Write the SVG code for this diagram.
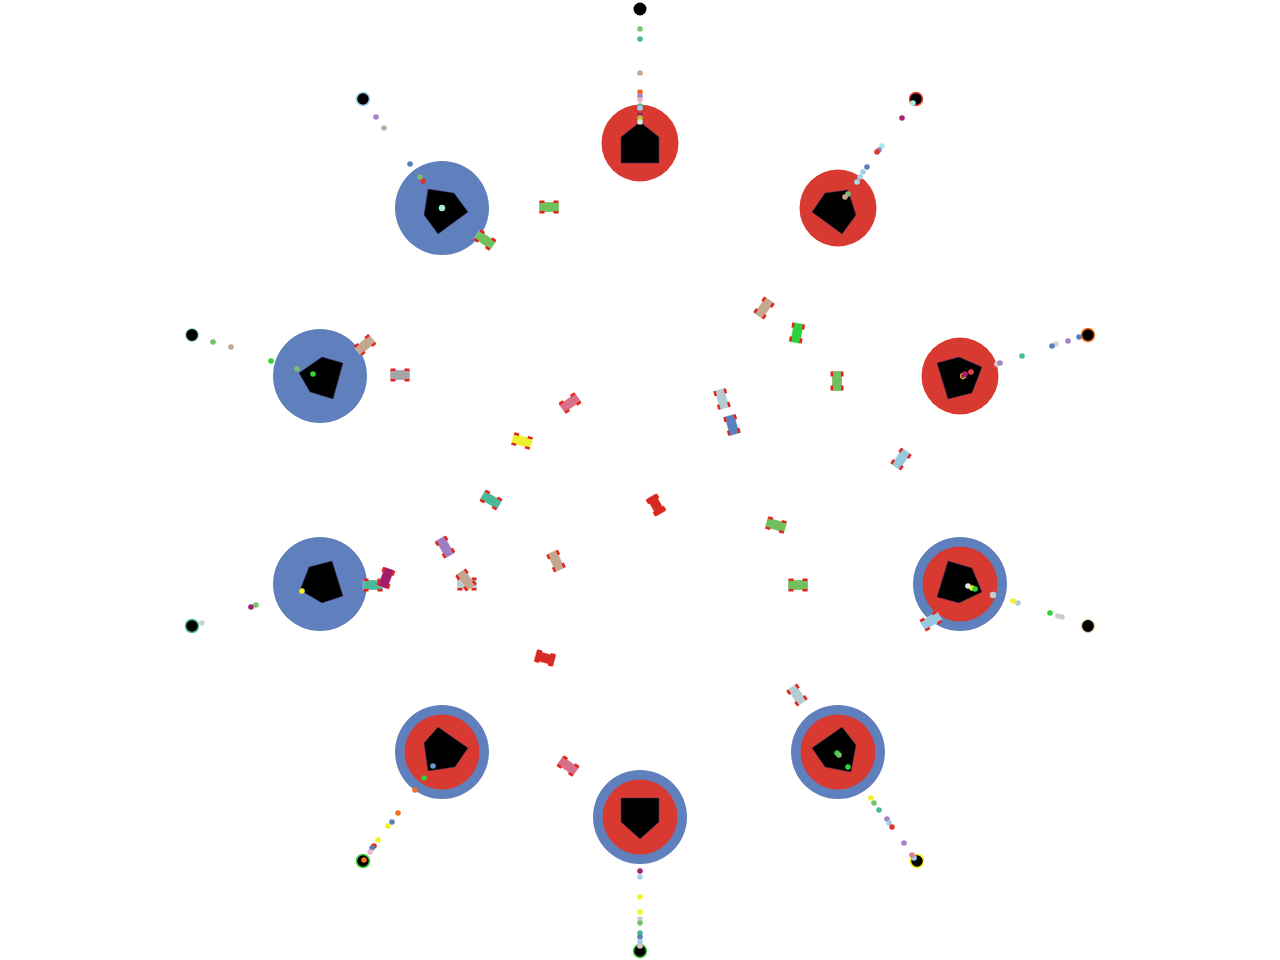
<svg xmlns="http://www.w3.org/2000/svg" xmlns:xlink="http://www.w3.org/1999/xlink" width="1280" height="960" viewBox="0 0 1280 960">
<style>
.red{fill:#d83a31}
.blue{fill:#5f80bd}
.pent{fill:#000;stroke:#4a3b6e;stroke-width:0.5}
.home{fill:#000}
.d{r:2.8}
.w{fill:#e3231c}
.body{stroke:#ffffff;stroke-opacity:0.5;stroke-width:0.6}
</style>
<defs>
<g id="wheels">
<rect class="w" x="-9.5" y="-6.5" width="5" height="2.5"/>
<rect class="w" x="4.5" y="-6.5" width="5" height="2.5"/>
<rect class="w" x="-9.5" y="4" width="5" height="2.5"/>
<rect class="w" x="4.5" y="4" width="5" height="2.5"/>
</g>
</defs>
<rect width="1280" height="960" fill="#fff"/>

<!-- Bases -->
<g id="base-n">
<circle class="red" cx="640" cy="143" r="38.5"/>
<polygon class="pent" points="640,122 659,137 659,163 621,163 621,137"/>
</g>
<g id="base-ne">
<circle class="red" cx="838" cy="208" r="38.5"/>
<polygon class="pent" points="825,193 848,190 856,215 842,234 812,212"/>
</g>
<g id="base-e">
<circle class="red" cx="960" cy="376" r="38.5"/>
<polygon class="pent" points="937,363 959,357 982,367 972,393 948,399"/>
</g>
<g id="base-ese">
<circle class="blue" cx="960" cy="584" r="47"/>
<circle class="red" cx="960" cy="584" r="37.5"/>
<polygon class="pent" points="948,561 972,568 982,592 959,603 937,597"/>
</g>
<g id="base-se">
<circle class="blue" cx="838" cy="752" r="47"/>
<circle class="red" cx="838" cy="752" r="37.5"/>
<polygon class="pent" points="842,727 856,745 851,772 825,767 812,748"/>
</g>
<g id="base-s">
<circle class="blue" cx="640" cy="817" r="47"/>
<circle class="red" cx="640" cy="817" r="37.5"/>
<polygon class="pent" points="621,798 659,798 659,822 640,839 621,822"/>
</g>
<g id="base-sw">
<circle class="blue" cx="442" cy="752" r="47"/>
<circle class="red" cx="442" cy="752" r="37.5"/>
<polygon class="pent" points="438,727 468,748 455,767 428,771 424,743"/>
</g>
<g id="base-wsw">
<circle class="blue" cx="320" cy="584" r="47"/>
<polygon class="pent" points="309,567 332,561 343,596 322,603 300,590"/>
</g>
<g id="base-w">
<circle class="blue" cx="320" cy="376" r="47"/>
<polygon class="pent" points="322,357 343,363 333,399 310,392 299,373"/>
</g>
<g id="base-nw">
<circle class="blue" cx="442" cy="208" r="47"/>
<polygon class="pent" points="428,189 454,193 468,212 438,234 424,215"/>
</g>

<!-- Outer targets -->
<g id="targets">
<circle cx="640" cy="9" r="6.5" fill="#000"/>
<circle cx="916" cy="99" r="6.5" fill="#000" stroke="#e8423a" stroke-width="1.5"/>
<circle cx="913" cy="103" r="2.8" fill="#a9e9e6"/>
<circle cx="1088" cy="335" r="6.5" fill="#000" stroke="#f3701d" stroke-width="1.5"/>
<circle cx="1088" cy="626" r="6.5" fill="#000" stroke="#e8c9a8" stroke-width="1.2"/>
<circle cx="917" cy="861" r="6.5" fill="#000" stroke="#f2ee1a" stroke-width="1.5"/>
<circle cx="914" cy="858" r="2.8" fill="#9ed0e8"/>
<circle cx="640" cy="951" r="6.5" fill="#000" stroke="#3fcf3a" stroke-width="1.5"/>
<circle cx="640" cy="946" r="2.8" fill="#eeb8cc"/>
<circle cx="363" cy="861" r="6.5" fill="#000" stroke="#3fcf3a" stroke-width="1.5"/>
<circle cx="364" cy="860" r="2.8" fill="#f3701d"/>
<circle cx="192" cy="626" r="6.5" fill="#000" stroke="#4db898" stroke-width="1.5"/>
<circle cx="192" cy="335" r="6.5" fill="#000" stroke="#a9e9e6" stroke-width="1.2"/>
<circle cx="363" cy="99" r="6.5" fill="#000" stroke="#9ed0e8" stroke-width="1.5"/>
</g>

<!-- Small agents (dots) -->
<g id="dots">
<!-- N -->
<circle cx="640" cy="29" r="2.8" fill="#75c26b"/>
<circle cx="640" cy="39" r="2.8" fill="#4db898"/>
<circle cx="640" cy="73" r="2.8" fill="#c4a78f"/>
<circle cx="640" cy="92" r="2.8" fill="#f3701d"/>
<circle cx="640" cy="96" r="2.8" fill="#a383c7"/>
<circle cx="640" cy="100" r="2.8" fill="#eeb8cc"/>
<circle cx="640" cy="106" r="2.8" fill="#4db898"/>
<circle cx="640" cy="108" r="2.8" fill="#9ed0e8"/>
<circle cx="640" cy="115" r="2.8" fill="#a52070"/>
<circle cx="640" cy="118" r="2.8" fill="#b5c23a"/>
<circle cx="640" cy="122" r="2.8" fill="#c9ece8"/>
<!-- NE -->
<circle cx="902" cy="118" r="2.8" fill="#a52070"/>
<circle cx="882" cy="146" r="2.8" fill="#a9e9e6"/>
<circle cx="879" cy="150" r="2.8" fill="#a383c7"/>
<circle cx="877" cy="152" r="2.8" fill="#d93530"/>
<circle cx="867" cy="167" r="2.8" fill="#5b80be"/>
<circle cx="863" cy="172" r="2.8" fill="#9ed0e8"/>
<circle cx="860" cy="177" r="2.8" fill="#9ed0e8"/>
<circle cx="857" cy="182" r="2.8" fill="#a9d8ea"/>
<circle cx="848" cy="194" r="2.8" fill="#75c26b"/>
<circle cx="845" cy="197" r="2.8" fill="#c4a78f"/>
<!-- E -->
<circle cx="1079" cy="337" r="2.8" fill="#5b80be"/>
<circle cx="1068" cy="341" r="2.8" fill="#a383c7"/>
<circle cx="1056" cy="344" r="2.8" fill="#d0d3d6"/>
<circle cx="1052" cy="346" r="2.8" fill="#5b80be"/>
<circle cx="1022" cy="356" r="2.8" fill="#4db898"/>
<circle cx="997" cy="364" r="2.8" fill="#d0d3d6"/>
<circle cx="1000" cy="363" r="2.8" fill="#a383c7"/>
<circle cx="963" cy="376" r="2.8" fill="#a52070" stroke="#f2ee1a" stroke-width="0.8"/>
<circle cx="965" cy="374" r="2.8" fill="#a52070"/>
<circle cx="971" cy="372" r="2.8" fill="#e8423a"/>
<!-- ESE -->
<circle cx="1062" cy="617" r="2.8" fill="#c9cdd0"/>
<circle cx="1058" cy="616" r="2.8" fill="#c9cdd0"/>
<circle cx="1050" cy="613" r="2.8" fill="#34cf3a"/>
<circle cx="1013" cy="601" r="2.8" fill="#f2f02a"/>
<circle cx="1018" cy="603" r="2.8" fill="#b8c8cf"/>
<circle cx="993" cy="595" r="3.2" fill="#c9cdd0"/>
<circle cx="968" cy="586" r="2.8" fill="#d8ecec"/>
<circle cx="972" cy="588" r="2.8" fill="#f2f02a"/>
<circle cx="975" cy="589" r="2.8" fill="#34cf3a"/>
<!-- SE -->
<circle cx="837" cy="753" r="2.8" fill="#34cf3a"/>
<circle cx="839" cy="755" r="2.8" fill="#75c26b"/>
<circle cx="848" cy="767" r="2.8" fill="#34cf3a"/>
<circle cx="871" cy="798" r="2.8" fill="#f2f02a"/>
<circle cx="874" cy="803" r="2.8" fill="#75c26b"/>
<circle cx="879" cy="810" r="2.8" fill="#4db898"/>
<circle cx="887" cy="819" r="2.8" fill="#a383c7"/>
<circle cx="889" cy="823" r="2.8" fill="#9ed0e8"/>
<circle cx="892" cy="827" r="2.8" fill="#d93530"/>
<circle cx="904" cy="843" r="2.8" fill="#a383c7"/>
<circle cx="912" cy="855" r="2.8" fill="#e07a90"/>
<!-- S -->
<circle cx="640" cy="871" r="2.8" fill="#a52070"/>
<circle cx="640" cy="877" r="2.8" fill="#9ed0e8"/>
<circle cx="640" cy="897" r="2.8" fill="#f2f02a"/>
<circle cx="640" cy="912" r="2.8" fill="#f2f02a"/>
<circle cx="640" cy="919" r="2.8" fill="#c9cdd0"/>
<circle cx="640" cy="923" r="2.8" fill="#75c26b"/>
<circle cx="640" cy="933" r="2.8" fill="#4db898"/>
<circle cx="640" cy="937" r="2.8" fill="#5b80be"/>
<circle cx="640" cy="942" r="2.8" fill="#9ed0e8"/>
<!-- SW -->
<circle cx="433" cy="766" r="2.8" fill="#6f96d0"/>
<circle cx="424" cy="778" r="2.8" fill="#34cf3a"/>
<circle cx="415" cy="790" r="2.8" fill="#f3701d"/>
<circle cx="398" cy="813" r="2.8" fill="#f3701d"/>
<circle cx="392" cy="822" r="2.8" fill="#5b80be"/>
<circle cx="388" cy="826" r="2.8" fill="#f2f02a"/>
<circle cx="378" cy="840" r="2.8" fill="#f2f02a"/>
<circle cx="374" cy="846" r="2.8" fill="#d93530"/>
<circle cx="372" cy="848" r="2.8" fill="#5b80be"/>
<circle cx="370" cy="852" r="2.8" fill="#eeb8cc"/>
<!-- WSW -->
<circle cx="302" cy="591" r="2.8" fill="#f2f02a"/>
<circle cx="256" cy="605" r="2.8" fill="#75c26b"/>
<circle cx="251" cy="607" r="2.8" fill="#a52070"/>
<circle cx="202" cy="623" r="2.8" fill="#d0d3d6"/>
<!-- W -->
<circle cx="213" cy="342" r="2.8" fill="#75c26b"/>
<circle cx="231" cy="347" r="2.8" fill="#c4a78f"/>
<circle cx="271" cy="361" r="2.8" fill="#34cf3a"/>
<circle cx="297" cy="369" r="2.8" fill="#75c26b"/>
<circle cx="313" cy="374" r="2.8" fill="#34cf3a"/>
<!-- NW -->
<circle cx="376" cy="117" r="2.8" fill="#a383c7"/>
<circle cx="384" cy="128" r="2.8" fill="#c4a78f"/>
<circle cx="410" cy="164" r="2.8" fill="#5b80be"/>
<circle cx="423" cy="181" r="2.8" fill="#d93530"/>
<circle cx="420" cy="177" r="2.8" fill="#75c26b"/>
<circle cx="442" cy="208" r="3.2" fill="#a9e9e6"/>
</g>

<!-- Vehicles -->
<g id="cars">
<g transform="translate(549,207)"><rect class="body" x="-10" y="-5" width="20" height="10" fill="#72bf5e"/><use xlink:href="#wheels"/></g>
<g transform="translate(485,240) rotate(35)"><rect class="body" x="-10" y="-5" width="20" height="10" fill="#72bf5e"/><use xlink:href="#wheels"/></g>
<g transform="translate(365,345) rotate(-40)"><rect class="body" x="-10" y="-5" width="20" height="10" fill="#c4a78f"/><use xlink:href="#wheels"/></g>
<g transform="translate(400,375)"><rect class="body" x="-10" y="-5" width="20" height="10" fill="#a5a5a5"/><use xlink:href="#wheels"/></g>
<g transform="translate(570,403) rotate(-35)"><rect class="body" x="-10" y="-5" width="20" height="10" fill="#d9708a"/><use xlink:href="#wheels"/></g>
<g transform="translate(522,441) rotate(15)"><rect class="body" x="-10" y="-5" width="20" height="10" fill="#f0ef2f"/><use xlink:href="#wheels"/></g>
<g transform="translate(491,500) rotate(30)"><rect class="body" x="-10" y="-5" width="20" height="10" fill="#4db898"/><use xlink:href="#wheels"/></g>
<g transform="translate(445,547) rotate(60)"><rect class="body" x="-10" y="-5" width="20" height="10" fill="#9c80c4"/><use xlink:href="#wheels"/></g>
<g transform="translate(467,584)"><rect class="body" x="-10" y="-5" width="20" height="10" fill="#b3cdd3"/><use xlink:href="#wheels"/></g>
<g transform="translate(466,580) rotate(55)"><rect class="body" x="-10" y="-5" width="20" height="10" fill="#c4a78f"/><use xlink:href="#wheels"/></g>
<g transform="translate(556,561) rotate(66)"><rect class="body" x="-10" y="-5" width="20" height="10" fill="#c4a78f"/><use xlink:href="#wheels"/></g>
<g transform="translate(656,505) rotate(60)"><rect class="body" x="-10" y="-5" width="20" height="10" fill="#d62a22"/><use xlink:href="#wheels"/></g>
<g transform="translate(545,658) rotate(15)"><rect class="body" x="-10" y="-5" width="20" height="10" fill="#d62a22"/><use xlink:href="#wheels"/></g>
<g transform="translate(568,766) rotate(35)"><rect class="body" x="-10" y="-5" width="20" height="10" fill="#d9708a"/><use xlink:href="#wheels"/></g>
<g transform="translate(373,585)"><rect class="body" x="-10" y="-5" width="20" height="10" fill="#4db898"/><use xlink:href="#wheels"/></g>
<g transform="translate(386,578) rotate(-70)"><rect class="body" x="-10" y="-5" width="20" height="10" fill="#a21a6a"/><use xlink:href="#wheels"/></g>
<g transform="translate(764,308) rotate(-55)"><rect class="body" x="-10" y="-5" width="20" height="10" fill="#c4a78f"/><use xlink:href="#wheels"/></g>
<g transform="translate(797,333) rotate(-80)"><rect class="body" x="-10" y="-5" width="20" height="10" fill="#2fd13f"/><use xlink:href="#wheels"/></g>
<g transform="translate(837,381) rotate(90)"><rect class="body" x="-10" y="-5" width="20" height="10" fill="#72bf5e"/><use xlink:href="#wheels"/></g>
<g transform="translate(722,399) rotate(75)"><rect class="body" x="-10" y="-5" width="20" height="10" fill="#b3cdd3"/><use xlink:href="#wheels"/></g>
<g transform="translate(732,425) rotate(75)"><rect class="body" x="-10" y="-5" width="20" height="10" fill="#5b80be"/><use xlink:href="#wheels"/></g>
<g transform="translate(901,459) rotate(-55)"><rect class="body" x="-10" y="-5" width="20" height="10" fill="#97c8e2"/><use xlink:href="#wheels"/></g>
<g transform="translate(776,525) rotate(15)"><rect class="body" x="-10" y="-5" width="20" height="10" fill="#72bf5e"/><use xlink:href="#wheels"/></g>
<g transform="translate(798,585)"><rect class="body" x="-10" y="-5" width="20" height="10" fill="#72bf5e"/><use xlink:href="#wheels"/></g>
<g transform="translate(797,695) rotate(55)"><rect class="body" x="-10" y="-5" width="20" height="10" fill="#b3cdd3"/><use xlink:href="#wheels"/></g>
<g transform="translate(931,621) rotate(-30)"><rect class="body" x="-10" y="-5" width="20" height="10" fill="#97c8e2"/><use xlink:href="#wheels"/></g>
</g>
</svg>
